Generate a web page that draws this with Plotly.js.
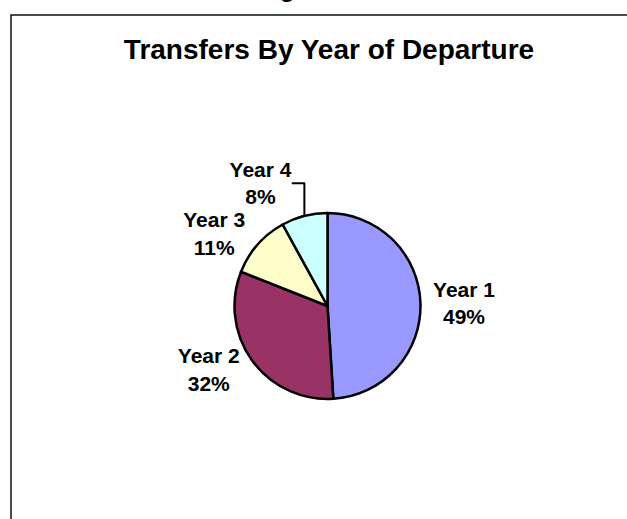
<!DOCTYPE html>
<html>
<head>
<meta charset="utf-8">
<script src="https://cdn.plot.ly/plotly-3.0.1.min.js"></script>
<style>html,body{margin:0;padding:0;background:#fff;}#chart{width:627px;height:519px;}</style>
</head>
<body>
<div id="chart"></div>
<script>
const categories = ["Year 1", "Year 2", "Year 3", "Year 4"];
const shares = [49, 32, 11, 8];
const sliceColors = ["#9999FF", "#993366", "#FFFFCC", "#CCFFFF"];
const chartTitle = "Transfers By Year of Departure";

const W = 627, H = 519;
const cx = 327.5, cy = 306, r = 93;
const FONT = "Liberation Sans, Arial, sans-serif";

const trace = {
  type: "pie",
  labels: categories,
  values: shares,
  sort: false,
  direction: "clockwise",
  rotation: 0,
  marker: { colors: sliceColors, line: { color: "#000000", width: 2.5 } },
  textposition: "outside",
  texttemplate: "<b>%{label}</b><br><b>%{percent:.0%}</b>",
  textfont: { family: FONT, size: 21, color: "#000000" },
  outsidetextfont: { family: FONT, size: 21, color: "#000000" },
  hoverinfo: "none",
  showlegend: false,
  domain: { x: [(cx - r) / W, (cx + r) / W], y: [1 - (cy + r) / H, 1 - (cy - r) / H] }
};

const layout = {
  width: W,
  height: H,
  margin: { l: 0, r: 0, t: 0, b: 0, pad: 0 },
  paper_bgcolor: "#ffffff",
  plot_bgcolor: "#ffffff",
  showlegend: false,
  title: {
    text: "<b>" + chartTitle + "</b>",
    font: { family: FONT, size: 28, color: "#000000" },
    x: 329 / W, xanchor: "center",
    y: 1 - 49 / H, yanchor: "middle", yref: "container", xref: "container"
  },
  shapes: [{
    type: "path", xref: "paper", yref: "paper",
    path: "M " + (11 / W) + " 0 L " + (11 / W) + " " + (1 - 15 / H) + " L 1.01 " + (1 - 15 / H),
    line: { color: "#111111", width: 1.5 }
  }],
  annotations: [{
    text: "<b>g</b>", xref: "paper", yref: "paper",
    x: 287 / W, y: 1 - 4 / H, xanchor: "center", yanchor: "bottom",
    showarrow: false,
    font: { family: FONT, size: 24, color: "#000000" }
  }]
};

Plotly.newPlot("chart", [trace], layout, { staticPlot: true, displayModeBar: false });
</script>
</body>
</html>
